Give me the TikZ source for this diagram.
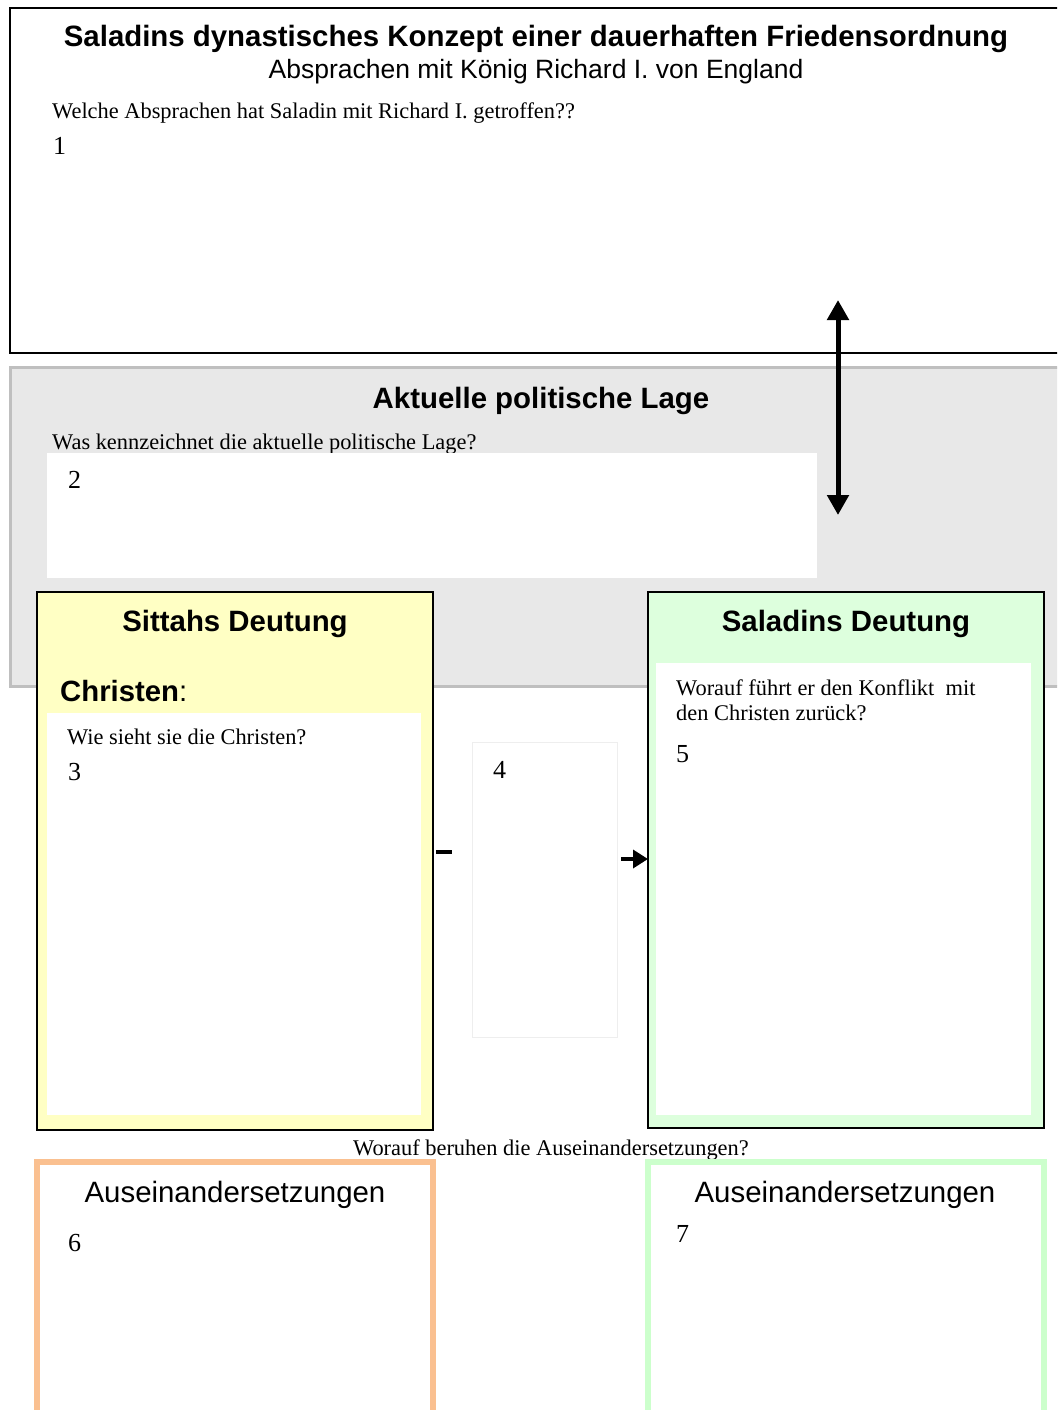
\documentclass[tikz,border=0pt]{standalone}
\usepackage{fontspec}
\setmainfont{Liberation Serif}
\newfontfamily\arialf{Liberation Sans}
\usetikzlibrary{arrows.meta}
\definecolor{grayfill}{HTML}{E8E8E8}
\definecolor{grayline}{HTML}{BFBFBF}
\definecolor{yellowfill}{HTML}{FFFFC4}
\definecolor{greenfill}{HTML}{DDFFDD}
\definecolor{orangeline}{HTML}{FAC090}
\definecolor{greenline}{HTML}{CCFFCC}
\definecolor{faintline}{HTML}{EEEEEE}
\tikzset{
  heading/.style={font=\arialf\bfseries\fontsize{29.4}{34}\selectfont, inner sep=0pt, anchor=base},
  subhead/.style={font=\arialf\fontsize{26.5}{30}\selectfont, inner sep=0pt, anchor=base},
  boxhead/.style={font=\arialf\fontsize{29.4}{34}\selectfont, inner sep=0pt, anchor=base},
  question/.style={font=\fontsize{22.4}{26}\selectfont, inner sep=0pt, anchor=base west},
  numlabel/.style={font=\fontsize{26}{28}\selectfont, inner sep=0pt, anchor=base west},
}
\begin{document}
\begin{tikzpicture}[x=1pt,y=-1pt]
\useasboundingbox (0,0) rectangle (1057,1410);
\begin{scope}
\clip (0,0) rectangle (1057,1410);
% top box
\draw[line width=2pt] (10,8) rectangle (1070,353);
\node[heading] (title) at (536,47) {Saladins dynastisches Konzept einer dauerhaften Friedensordnung};
\node[subhead] (subtitle) at (536,79) {Absprachen mit König Richard I. von England};
\node[question] (q1) at (52,119) {Welche Absprachen hat Saladin mit Richard I. getroffen??};
\node[numlabel] (n1) at (53,154) {1};
% gray box
\draw[grayline, fill=grayfill, line width=3pt] (10,367) rectangle (1070,686);
\node[heading] (lage) at (541,408) {Aktuelle politische Lage};
\node[question] (q2) at (52,449) {Was kennzeichnet die aktuelle politische Lage?};
\fill[white] (47,453) rectangle (817,578);
\node[numlabel] (n2) at (68,488) {2};
% double arrow
\coordinate (atop) at (838,300);
\coordinate (abot) at (838,515);
\draw[line width=5pt, {Triangle[length=20pt,width=21pt]}-{Triangle[length=20pt,width=21pt]}] (atop) -- (abot);
% yellow box
\draw[line width=2pt, fill=yellowfill] (37,592) rectangle (433,1130);
\fill[white] (47,713) rectangle (421,1115);
\node[heading] (sittah) at (235,631) {Sittahs Deutung};
\node[font=\arialf\fontsize{29.3}{34}\selectfont, inner sep=0pt, anchor=base west] (christen) at (60,701) {\textbf{Christen}:};
\node[question] (q3) at (67,744) {Wie sieht sie die Christen?};
\node[numlabel] (n3) at (68,780) {3};
% dash
\coordinate (d1) at (436,852);
\coordinate (d2) at (452,852);
\draw[line width=3.5pt] (d1) -- (d2);
% box 4
\draw[faintline, line width=1pt, fill=white] (472,742) rectangle (617,1037);
\node[numlabel] (n4) at (493,778) {4};
% green box
\draw[line width=2pt, fill=greenfill] (648,592) rectangle (1044,1128);
\fill[white] (656,663) rectangle (1031,1115);
\node[heading] (saladin) at (846,631) {Saladins Deutung};
\node[question] (q5a) at (676,695) {Worauf führt er den Konflikt\ \ mit};
\node[question] (q5b) at (676,720) {den Christen zurück?};
\node[numlabel] (n5) at (676,762) {5};
% small arrow
\coordinate (s1) at (621,859);
\coordinate (s2) at (648,859);
\draw[line width=3.5pt, -{Triangle[length=15pt,width=18pt]}] (s1) -- (s2);
% question between
\node[question, anchor=base] (q6) at (551,1155) {Worauf beruhen die Auseinandersetzungen?};
% bottom boxes
\draw[orangeline, line width=6pt] (37,1430) -- (37,1162) -- (433,1162) -- (433,1430);
\node[boxhead] (ause1) at (235,1202) {Auseinandersetzungen};
\node[numlabel] (n6) at (68,1251) {6};
\draw[greenline, line width=6pt] (648,1430) -- (648,1162) -- (1044,1162) -- (1044,1430);
\node[boxhead] (ause2) at (845,1202) {Auseinandersetzungen};
\node[numlabel] (n7) at (676,1242) {7};
\end{scope}
\end{tikzpicture}
\end{document}
